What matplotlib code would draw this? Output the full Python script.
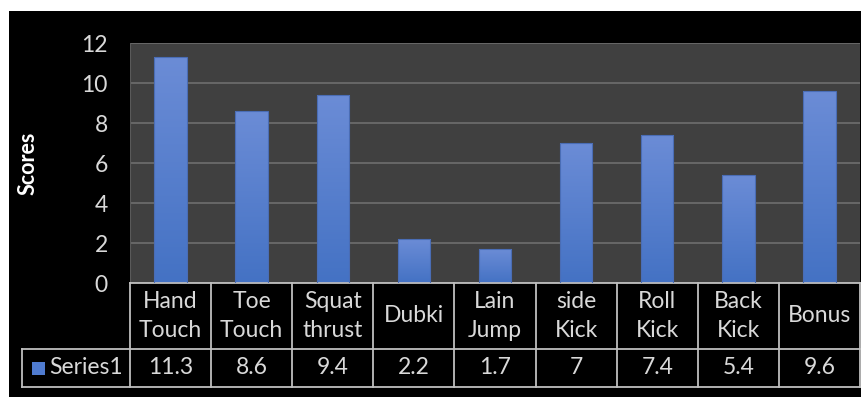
import numpy as np
import matplotlib
matplotlib.use("Agg")
import matplotlib.pyplot as plt
from matplotlib.colors import LinearSegmentedColormap
from matplotlib.patches import Rectangle

categories = ["Hand\nTouch", "Toe\nTouch", "Squat\nthrust", "Dubki", "Lain\nJump",
              "side\nKick", "Roll\nKick", "Back\nKick", "Bonus"]
scores = [11.3, 8.6, 9.4, 2.2, 1.7, 7, 7.4, 5.4, 9.6]
score_labels = ["11.3", "8.6", "9.4", "2.2", "1.7", "7", "7.4", "5.4", "9.6"]
series_name = "Series1"
yticks = [0, 2, 4, 6, 8, 10, 12]

plt.rcParams['font.family'] = ['Lato', 'DejaVu Sans']
txt = "#d9d9d9"
fs = 16.5

W, H = 862, 397
fig = plt.figure(figsize=(W / 100, H / 100), dpi=100, facecolor="white")
# black chart background (white strip at top/left like the screenshot)
fig.patches.append(Rectangle((9 / W, 0), 1, 1 - 11 / H, transform=fig.transFigure,
                             facecolor="black", edgecolor="none", zorder=-10))

left, right, top, bottom = 130, 860, 43, 283
ax = fig.add_axes([left / W, 1 - bottom / H, (right - left) / W, (bottom - top) / H])
ax.set_facecolor("#404040")
for s in ax.spines.values():
    s.set_visible(False)

x = np.arange(len(scores))
bars = ax.bar(x, scores, width=0.4, facecolor="none", edgecolor="#4a6db5",
              linewidth=0.8, zorder=3)
cmap = LinearSegmentedColormap.from_list("blue", ["#4472c4", "#6b8cd6"])
grad = np.linspace(0, 1, 100).reshape(-1, 1)
for b in bars:
    x0, y0 = b.get_x(), b.get_y()
    ax.imshow(grad, extent=[x0, x0 + b.get_width(), y0, y0 + b.get_height()],
              origin="lower", cmap=cmap, aspect="auto", zorder=2)

ax.set_xlim(-0.5, len(scores) - 0.5)
ax.set_ylim(0, 12)
ax.set_yticks(yticks)
ax.set_yticklabels([str(t) for t in yticks], color=txt, fontsize=fs)
ax.tick_params(axis="y", length=0, pad=16)
ax.set_xticks([])
ax.grid(axis="y", color="#6e6e6e", linewidth=1.2, zorder=1)
ax.set_axisbelow(True)
ax.axvline(-0.5, color="#5a5a5a", linewidth=1.5, zorder=1)
ax.set_ylabel("Scores", color="white", fontsize=fs - 1, fontweight="bold", labelpad=0)
ax.yaxis.set_label_coords(-91 / (right - left), 0.5)

# data table under the plot
trans = ax.get_xaxis_transform()
ph = bottom - top
r1 = -(349 - bottom) / ph
r2 = -(387 - bottom) / ph
lc = "#bfbfbf"
lw = 1.3
n = len(scores)
cw = (right - left) / n
x_leg = -0.5 - (left - 22) / cw
kw = dict(transform=trans, color=lc, linewidth=lw, clip_on=False)
ax.plot([-0.5, n - 0.5], [0, 0], **kw)
ax.plot([x_leg, n - 0.5], [r1, r1], **kw)
ax.plot([x_leg, n - 0.5], [r2, r2], **kw)
ax.plot([x_leg, x_leg], [r1, r2], **kw)
for i in range(n + 1):
    ax.plot([i - 0.5, i - 0.5], [0, r2], **kw)
for i, (c, v) in enumerate(zip(categories, score_labels)):
    ax.text(i, r1 / 2, c, transform=trans, ha="center", va="center",
            color=txt, fontsize=fs, linespacing=1.45)
    ax.text(i, (r1 + r2) / 2, v, transform=trans, ha="center", va="center",
            color=txt, fontsize=fs)
ax.add_patch(Rectangle((x_leg + 10 / cw, (r1 + r2) / 2 - 6.5 / ph),
                       13 / cw, 13 / ph, transform=trans, facecolor="#4f7bd0",
                       edgecolor="none", clip_on=False))
ax.text(x_leg + 27 / cw, (r1 + r2) / 2, series_name,
        transform=trans, ha="left", va="center", color=txt, fontsize=fs)

fig.savefig("out.png", dpi=100, facecolor=fig.get_facecolor())
